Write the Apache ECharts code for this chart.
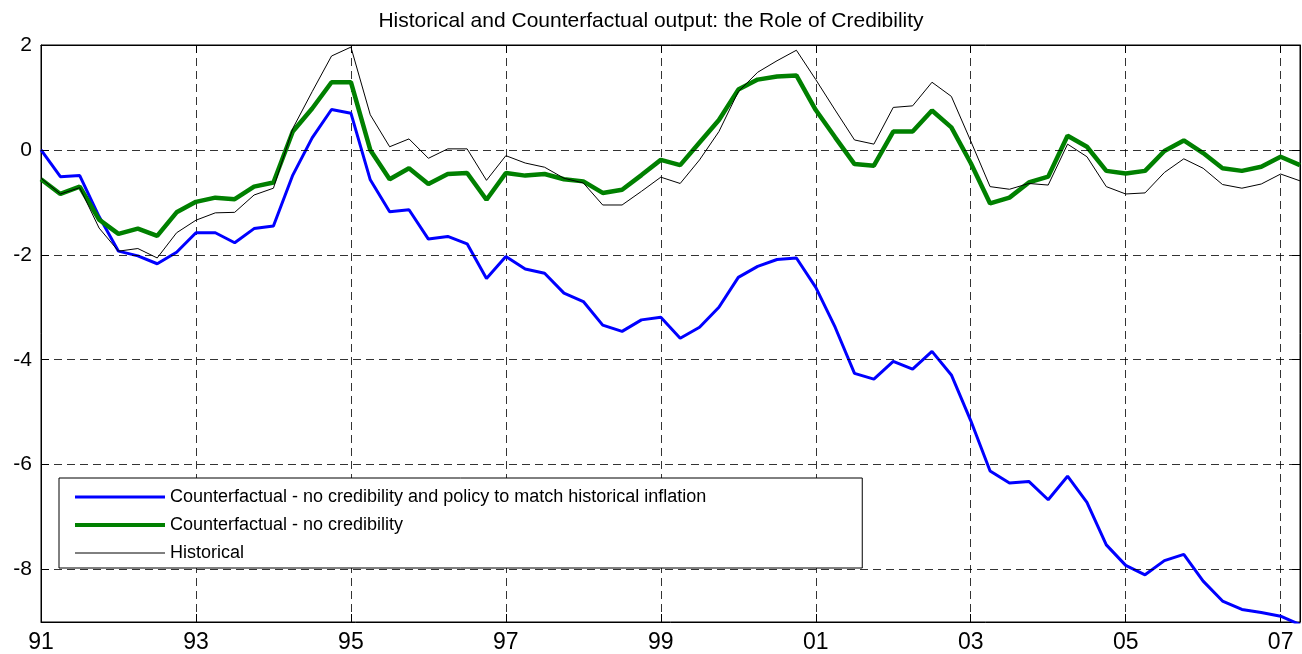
<!DOCTYPE html>
<html>
<head>
<meta charset="utf-8">
<title>Historical and Counterfactual output</title>
<script src="https://cdn.jsdelivr.net/npm/echarts@6/dist/echarts.min.js"></script>
<style>
  html, body { margin: 0; padding: 0; background: #fff; }
  #chart { width: 1302px; height: 654px; }
</style>
</head>
<body>
<div id="chart"></div>
<script>
// quarterly, 1991Q1 .. 2007Q2
var startYear = 1991;
var nQuarters = 66;
var xTickLabels = ['91', '93', '95', '97', '99', '01', '03', '05', '07'];
var yTickValues = [-8, -6, -4, -2, 0, 2];

var noCredPolicy = [0, -0.51, -0.49, -1.27, -1.93, -2.02, -2.17, -1.95, -1.58, -1.58, -1.77, -1.50, -1.45, -0.48, 0.23, 0.77,
  0.70, -0.57, -1.18, -1.14, -1.70, -1.65, -1.79, -2.45, -2.03, -2.27, -2.35, -2.73, -2.89, -3.34, -3.46, -3.24,
  -3.19, -3.59, -3.38, -3.00, -2.43, -2.22, -2.09, -2.06, -2.62, -3.38, -4.26, -4.37, -4.03, -4.18, -3.84, -4.29,
  -5.16, -6.12, -6.35, -6.32, -6.67, -6.22, -6.72, -7.53, -7.92, -8.10, -7.83, -7.71, -8.22, -8.60, -8.76, -8.82,
  -8.89, -9.05];
var noCred = [-0.56, -0.84, -0.70, -1.33, -1.60, -1.50, -1.64, -1.19, -0.99, -0.91, -0.94, -0.70, -0.62, 0.35, 0.79, 1.29,
  1.29, 0.00, -0.56, -0.35, -0.65, -0.46, -0.44, -0.95, -0.44, -0.49, -0.46, -0.56, -0.60, -0.82, -0.76, -0.48,
  -0.19, -0.29, 0.14, 0.57, 1.15, 1.34, 1.40, 1.42, 0.76, 0.24, -0.27, -0.30, 0.35, 0.35, 0.75, 0.43,
  -0.25, -1.02, -0.91, -0.62, -0.51, 0.27, 0.06, -0.40, -0.45, -0.40, -0.02, 0.18, -0.06, -0.35, -0.40, -0.32,
  -0.13, -0.29];
var historical = [-0.54, -0.84, -0.72, -1.49, -1.93, -1.88, -2.06, -1.58, -1.34, -1.20, -1.19, -0.86, -0.73, 0.41, 1.11, 1.79,
  1.96, 0.67, 0.06, 0.21, -0.16, 0.02, 0.02, -0.58, -0.11, -0.25, -0.33, -0.54, -0.63, -1.05, -1.05, -0.79,
  -0.52, -0.64, -0.19, 0.35, 1.11, 1.48, 1.70, 1.90, 1.34, 0.76, 0.19, 0.11, 0.81, 0.84, 1.29, 1.02,
  0.17, -0.70, -0.75, -0.64, -0.67, 0.11, -0.13, -0.70, -0.84, -0.82, -0.43, -0.17, -0.35, -0.66, -0.73, -0.65,
  -0.46, -0.59];

var seriesNames = [
  'Counterfactual - no credibility and policy to match historical inflation',
  'Counterfactual - no credibility',
  'Historical'
];

var categories = [];
for (var i = 0; i < nQuarters; i++) {
  categories.push((startYear + Math.floor(i / 4)) + 'Q' + (i % 4 + 1));
}

(function () {
  var myChart = echarts.init(document.getElementById('chart'));
  var fontFamily = '"Liberation Sans", Arial, sans-serif';
  var dash = { color: '#000', width: 1, type: [8, 5], opacity: 0.8 };
  var everyTwoYears = function (index) { return index % 8 === 0; };

  var option = {
    animation: false,
    backgroundColor: '#fff',
    title: {
      text: 'Historical and Counterfactual output: the Role of Credibility',
      left: 'center',
      top: 6,
      textStyle: { fontFamily: fontFamily, fontSize: 21, fontWeight: 'normal', color: '#000' }
    },
    grid: {
      left: 41,
      right: 2,
      top: 45,
      bottom: 32,
      show: true,
      borderColor: '#000',
      borderWidth: 1
    },
    legend: {
      orient: 'vertical',
      left: 59,
      top: 478,
      padding: [10, 156, 6, 14],
      itemWidth: 90,
      itemHeight: 18,
      itemGap: 10,
      borderColor: '#000',
      borderWidth: 1,
      backgroundColor: '#fff',
      itemStyle: { opacity: 0 },
      textStyle: { fontFamily: fontFamily, fontSize: 18, color: '#000' },
      data: [
        { name: seriesNames[0], lineStyle: { width: 3 } },
        { name: seriesNames[1], lineStyle: { width: 4 } },
        { name: seriesNames[2], lineStyle: { width: 1 } }
      ]
    },
    xAxis: [{
      type: 'category',
      data: categories,
      boundaryGap: false,
      axisLine: { onZero: false, lineStyle: { color: '#000' } },
      axisTick: { inside: true, length: 8, interval: everyTwoYears, lineStyle: { color: '#000' } },
      axisLabel: {
        interval: everyTwoYears,
        margin: 9,
        fontFamily: fontFamily,
        fontSize: 23,
        color: '#000',
        formatter: function (value, index) { return xTickLabels[index / 8]; }
      },
      splitLine: { show: true, interval: everyTwoYears, lineStyle: dash }
    }, {
      type: 'category',
      position: 'top',
      data: categories,
      boundaryGap: false,
      axisLine: { onZero: false, lineStyle: { color: '#000' } },
      axisTick: { inside: true, length: 8, interval: everyTwoYears, lineStyle: { color: '#000' } },
      axisLabel: { show: false },
      splitLine: { show: false }
    }],
    yAxis: [{
      type: 'value',
      min: -9,
      max: 2,
      interval: 1,
      axisLine: { show: true, onZero: false, lineStyle: { color: '#000' } },
      axisTick: { show: true, inside: true, length: 8, customValues: yTickValues, lineStyle: { color: '#000' } },
      axisLabel: {
        customValues: yTickValues,
        margin: 9,
        fontFamily: fontFamily,
        fontSize: 21,
        color: '#000',
        formatter: function (v) { return yTickValues.indexOf(v) >= 0 ? String(v) : ''; }
      },
      splitLine: { show: false }
    }, {
      type: 'value',
      position: 'right',
      min: -9,
      max: 2,
      interval: 1,
      axisLine: { show: true, onZero: false, lineStyle: { color: '#000' } },
      axisTick: { show: true, inside: true, length: 8, customValues: yTickValues, lineStyle: { color: '#000' } },
      axisLabel: { show: false },
      splitLine: { show: false }
    }],
    series: [{
      name: seriesNames[0],
      type: 'line',
      data: noCredPolicy,
      symbol: 'none',
      color: '#0000ff',
      lineStyle: { color: '#0000ff', width: 3 },
      // horizontal dashed grid lines at the labelled ticks
      markLine: {
        silent: true,
        symbol: 'none',
        label: { show: false },
        lineStyle: dash,
        data: yTickValues.map(function (v) { return { yAxis: v }; })
      }
    }, {
      name: seriesNames[1],
      type: 'line',
      data: noCred,
      symbol: 'none',
      color: '#008000',
      lineStyle: { color: '#008000', width: 4.5 }
    }, {
      name: seriesNames[2],
      type: 'line',
      data: historical,
      symbol: 'none',
      color: '#000',
      lineStyle: { color: '#000', width: 1 }
    }]
  };

  myChart.setOption(option);
  window.addEventListener('resize', function () {
    myChart.resize();
  });
})();
</script>
</body>
</html>
